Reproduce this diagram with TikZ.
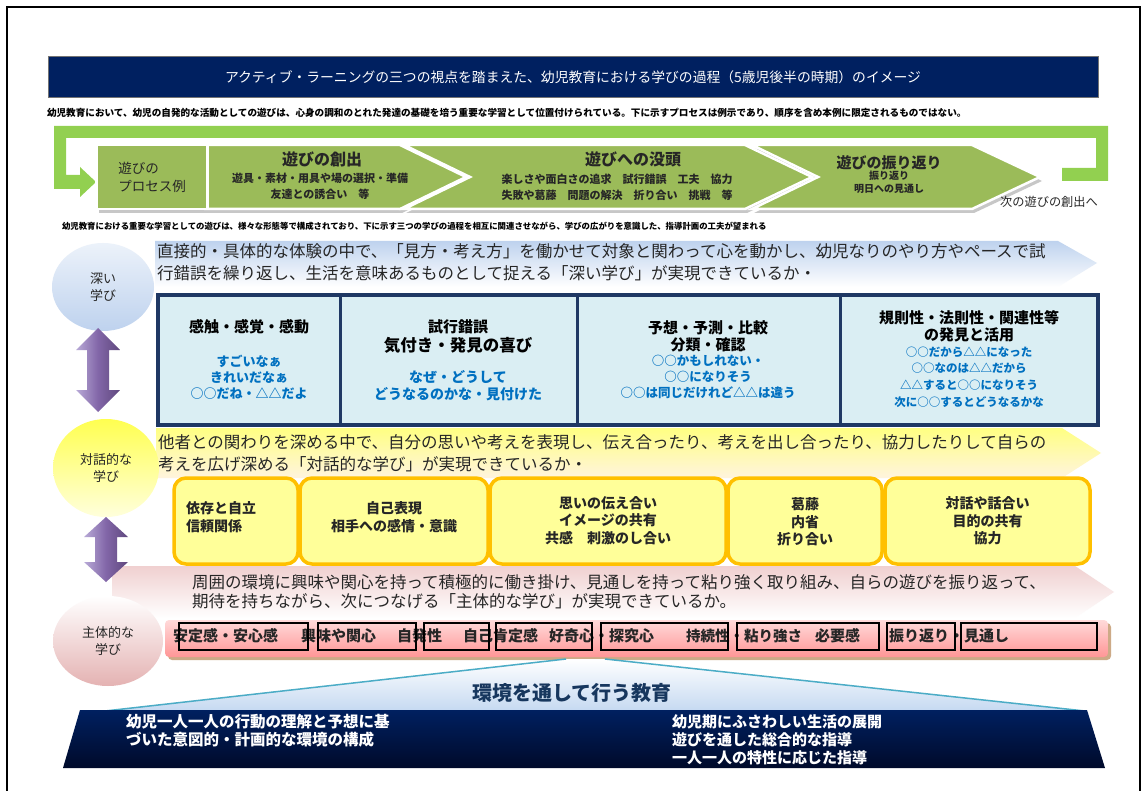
\documentclass[tikz,border=0pt]{standalone}
\usepackage{fontspec}
\setmainfont{Noto Sans CJK JP}
\usetikzlibrary{shapes.geometric}
\newcommand\setfs[2]{\fontsize{#1}{#2}\selectfont}
\definecolor{navy}{RGB}{0,32,96}
\definecolor{navydark}{RGB}{0,10,42}
\definecolor{loopgreen}{RGB}{146,208,80}
\definecolor{olive}{RGB}{155,187,89}
\definecolor{tblborder}{RGB}{31,56,100}
\definecolor{tblfill}{RGB}{218,238,243}
\definecolor{bluetxt}{RGB}{0,112,192}
\definecolor{deepband}{RGB}{190,210,238}
\definecolor{deepellTop}{RGB}{236,242,250}
\definecolor{deepell}{RGB}{190,210,238}
\definecolor{ylTop}{RGB}{255,255,130}
\definecolor{ylMid}{RGB}{255,255,40}
\definecolor{ylBot}{RGB}{255,244,222}
\definecolor{ylEll}{RGB}{255,255,80}
\definecolor{ylEllBot}{RGB}{255,255,220}
\definecolor{yelbox}{RGB}{255,255,153}
\definecolor{orangeb}{RGB}{255,192,0}
\definecolor{pkTop}{RGB}{240,208,208}
\definecolor{pkEll}{RGB}{228,178,178}
\definecolor{pkBarTop}{RGB}{255,218,218}
\definecolor{pkBarBot}{RGB}{255,150,150}
\definecolor{tanedge}{RGB}{205,170,135}
\definecolor{purL}{RGB}{185,170,215}
\definecolor{purM}{RGB}{130,102,168}
\definecolor{purD}{RGB}{95,72,125}
\definecolor{lightblue}{RGB}{197,217,241}
\definecolor{cyanline}{RGB}{75,172,198}
\definecolor{eduTxt}{RGB}{23,55,94}
\definecolor{txt}{RGB}{38,38,38}
\tikzset{
  txtnode/.style={inner sep=0pt, outer sep=0pt},
  bandtext/.style={txtnode, anchor=west, align=left, text=txt, font=\setfs{16.5}{22}},
  chevron/.style={fill=olive, draw=white, line width=2.5pt, line join=miter},
  chevshadow/.style={fill=black!22},
  chevtitle/.style={txtnode, text=txt, font=\setfs{16}{18}\bfseries},
  chevsub/.style={txtnode, text=txt, align=center, font=\setfs{11}{16}\bfseries},
  learnell/.style={ellipse, inner sep=0pt, align=center, text=txt, font=\setfs{13}{17}},
  cell/.style={draw=tblborder, line width=3pt, fill=tblfill, minimum height=130pt, inner sep=0pt},
  cellhead/.style={txtnode, align=center, text=black, font=\setfs{15}{17}\bfseries},
  cellblue/.style={txtnode, align=center, text=bluetxt},
  ybox/.style={draw=orangeb, line width=3.5pt, fill=yelbox, rounded corners=12pt, minimum height=86pt, inner sep=0pt},
  yboxtext/.style={txtnode, align=center, text=txt, font=\setfs{14}{17.5}\bfseries},
  pinkword/.style={txtnode, anchor=west, text=txt, font=\setfs{15}{17}\bfseries},
  wordframe/.style={draw=black, line width=1.2pt},
  navytext/.style={txtnode, anchor=west, align=left, text=white, font=\setfs{15}{18}\bfseries},
  dblarrow/.style={left color=purL, right color=purD, middle color=purM},
}
\begin{document}
\begin{tikzpicture}[x=1pt,y=-1pt]
\useasboundingbox (0,0) rectangle (1145,791);
\fill[white] (0,0) rectangle (1145,791);
\draw[line width=1.6pt] (7,800) -- (7,7) -- (1140,7) -- (1140,800);

% title
\node[fill=navy, draw=black!55, line width=1pt, minimum width=1050pt, minimum height=41pt, inner sep=0pt, text=white, font=\setfs{13.8}{16}] (title) at (573,77.5) {アクティブ・ラーニングの三つの視点を踏まえた、幼児教育における学びの過程（5歳児後半の時期）のイメージ};
\node[txtnode, anchor=west, text=black, font=\setfs{9.6}{11}\bfseries] (note1) at (47,113) {幼児教育において、幼児の自発的な活動としての遊びは、心身の調和のとれた発達の基礎を培う重要な学習として位置付けられている。下に示すプロセスは例示であり、順序を含め本例に限定されるものではない。};

% green loop
\fill[loopgreen] (54,126) -- (1108,126) -- (1108,181) -- (1062,181) -- (1062,168) -- (1096,168) -- (1096,138) -- (66,138) -- (66,175) -- (80,175) -- (80,167) -- (96,182) -- (80,197) -- (80,189) -- (54,189) -- cycle;

% process row
\begin{scope}[shift={(2,4)}]
  \fill[chevshadow] (752,145) -- (972,145) -- (1040,177) -- (972,209) -- (752,209) -- (818,177) -- cycle;
  \fill[chevshadow] (404,145) -- (745,145) -- (812,177) -- (745,209) -- (404,209) -- (470,177) -- cycle;
  \fill[chevshadow] (205,145) -- (400,145) -- (466,177) -- (400,209) -- (205,209) -- cycle;
  \fill[chevshadow] (97,145) rectangle (208,209);
\end{scope}
\filldraw[chevron] (752,145) -- (972,145) -- (1040,177) -- (972,209) -- (752,209) -- (818,177) -- cycle;
\filldraw[chevron] (404,145) -- (745,145) -- (812,177) -- (745,209) -- (404,209) -- (470,177) -- cycle;
\filldraw[chevron] (205,145) -- (400,145) -- (466,177) -- (400,209) -- (205,209) -- cycle;
\node[chevron, minimum width=111pt, minimum height=64pt, inner sep=0pt, align=left, text=txt, font=\setfs{13.5}{18}] (procbox) at (152,177) {遊びの\\プロセス例};

\node[chevtitle] (c1t) at (322,159) {遊びの創出};
\node[chevsub] (c1s) at (320,186) {遊具・素材・用具や場の選択・準備\\友達との誘合い　等};
\node[chevtitle] (c2t) at (633,159) {遊びへの没頭};
\node[chevsub] (c2s) at (617,187) {楽しさや面白さの追求　試行錯誤　工夫　協力\\失敗や葛藤　問題の解決　折り合い　挑戦　等};
\node[chevtitle, font=\setfs{15}{17}\bfseries] (c3t) at (889,163) {遊びの振り返り};
\node[chevsub, font=\setfs{10}{13}\bfseries] (c3s) at (889,182.5) {振り返り\\明日への見通し};
\node[txtnode, text=txt, font=\setfs{12.2}{14}] (next) at (1049,202) {次の遊びの創出へ};

\node[txtnode, anchor=west, text=black, font=\setfs{8.4}{10}\bfseries] (note2) at (62,226) {幼児教育における重要な学習としての遊びは、様々な形態等で構成されており、下に示す三つの学びの過程を相互に関連させながら、学びの広がりを意識した、指導計画の工夫が望まれる};

% deep learning band
\shade[top color=deepband, bottom color=white] (155,241) -- (1058,241) -- (1097,263) -- (1058,287) -- (155,287) -- cycle;
\node[bandtext] (deeptext) at (157,262) {直接的・具体的な体験の中で、「見方・考え方」を働かせて対象と関わって心を動かし、幼児なりのやり方やペースで試\\行錯誤を繰り返し、生活を意味あるものとして捉える「深い学び」が実現できているか・};
\node[learnell, minimum width=102pt, minimum height=88pt, top color=deepellTop, bottom color=deepell] (deep) at (103,287) {深い\\学び};

% table
\node[cell, minimum width=182pt] (cell1) at (249,360) {};
\node[cell, minimum width=237pt] (cell2) at (458.5,360) {};
\node[cell, minimum width=263pt] (cell3) at (708.5,360) {};
\node[cell, minimum width=258pt] (cell4) at (969,360) {};
\node[draw=tblborder, line width=4pt, minimum width=940pt, minimum height=130pt, inner sep=0pt] (tbl) at (628,360) {};

\node[cellhead] (h1) at (249,327) {感触・感覚・感動};
\node[cellblue, font=\setfs{13}{16}\bfseries] (bl1) at (249,377) {すごいなぁ\\きれいだなぁ\\○○だね・△△だよ};
\node[cellhead] (h2a) at (458,327) {試行錯誤};
\node[cellhead, font=\setfs{16.5}{18}\bfseries] (h2b) at (458,345) {気付き・発見の喜び};
\node[cellblue, font=\setfs{14}{17}\bfseries] (bl2) at (458,385.5) {なぜ・どうして\\どうなるのかな・見付けた};
\node[cellhead] (h3) at (708,336.5) {予想・予測・比較\\分類・確認};
\node[cellblue, font=\setfs{12.5}{16}\bfseries] (bl3) at (708,377) {○○かもしれない・\\○○になりそう\\○○は同じだけれど△△は違う};
\node[cellhead] (h4) at (969,326.5) {規則性・法則性・関連性等\\の発見と活用};
\node[cellblue, font=\setfs{11.5}{16.7}\bfseries] (bl4) at (969,377) {○○だから△△になった\\○○なのは△△だから\\△△すると○○になりそう\\次に○○するとどうなるかな};

% arrow 1
\shade[dblarrow] (98,328) -- (120,350) -- (109,350) -- (109,390) -- (120,390) -- (98,412) -- (76,390) -- (87,390) -- (87,350) -- (76,350) -- cycle;

% dialog band
\shade[top color=ylTop, middle color=ylMid, bottom color=ylBot] (156,428) -- (1062,428) -- (1101,453) -- (1062,478) -- (156,478) -- cycle;
\node[bandtext] (dialtext) at (158,453) {他者との関わりを深める中で、自分の思いや考えを表現し、伝え合ったり、考えを出し合ったり、協力したりして自らの\\考えを広げ深める「対話的な学び」が実現できているか・};

% pink band (behind yellow boxes)
\shade[top color=pkTop, bottom color=white] (112,566) -- (1075,566) -- (1114,592) -- (1075,618) -- (112,618) -- cycle;
\node[bandtext, font=\setfs{16.5}{19}] (subjtext) at (192,591.5) {周囲の環境に興味や関心を持って積極的に働き掛け、見通しを持って粘り強く取り組み、自らの遊びを振り返って、\\期待を持ちながら、次につなげる「主体的な学び」が実現できているか。};

\node[learnell, minimum width=106pt, minimum height=98pt, top color=ylEll, bottom color=ylEllBot] (dial) at (106,468) {対話的な\\学び};

\node[ybox, minimum width=124pt] (yb1) at (236,521) {};
\node[ybox, minimum width=188pt] (yb2) at (394,521) {};
\node[ybox, minimum width=236pt] (yb3) at (608,521) {};
\node[ybox, minimum width=154pt] (yb4) at (805,521) {};
\node[ybox, minimum width=205pt] (yb5) at (987.5,521) {};
\node[yboxtext, anchor=west, align=left] (yt1) at (186,517) {依存と自立\\信頼関係};
\node[yboxtext] (yt2) at (394,517) {自己表現\\相手への感情・意識};
\node[yboxtext] (yt3) at (608,520.5) {思いの伝え合い\\イメージの共有\\共感　刺激のし合い};
\node[yboxtext] (yt4) at (805,522) {葛藤\\内省\\折り合い};
\node[yboxtext] (yt5) at (987.5,521) {対話や話合い\\目的の共有\\協力};

% arrow 2
\shade[dblarrow] (106,517) -- (128,537) -- (117,537) -- (117,562) -- (128,562) -- (106,582) -- (84,562) -- (95,562) -- (95,537) -- (84,537) -- cycle;

% pink bar
\fill[tanedge, rounded corners=4pt] (168,623) rectangle (1111,660);
\node[draw=none, rounded corners=4pt, minimum width=943pt, minimum height=37pt, inner sep=0pt, top color=pkBarTop, bottom color=pkBarBot] (pinkbar) at (636.5,638.5) {};
\node[learnell, minimum width=110pt, minimum height=90pt, top color=white, bottom color=pkEll] (subj) at (108,641) {主体的な\\学び};

\node[pinkword] (w1) at (173,636) {安定感・安心感};
\node[pinkword] (w2) at (301,636) {興味や関心};
\node[pinkword] (w3) at (397,636) {自発性};
\node[pinkword] (w4) at (463,636) {自己肯定感};
\node[pinkword] (w5) at (549,636) {好奇心・探究心};
\node[pinkword, font=\setfs{14.5}{17}\bfseries] (w6) at (686,636) {持続性・粘り強さ};
\node[pinkword] (w7) at (815,636) {必要感};
\node[pinkword] (w8) at (889,636) {振り返り・見通し};
\draw[wordframe] (179,623) rectangle (308,650);
\draw[wordframe] (318,623) rectangle (416,650);
\draw[wordframe] (424,623) rectangle (489,650);
\draw[wordframe] (496,623) rectangle (592,650);
\draw[wordframe] (601,623) rectangle (728,650);
\draw[wordframe] (737,623) rectangle (879,650);
\draw[wordframe] (887,623) rectangle (955,650);
\draw[wordframe] (961,623) rectangle (1097,650);

% environment
\shade[top color=white, bottom color=lightblue] (105,711) -- (566,659) -- (605,659) -- (1085,711) -- cycle;
\draw[cyanline, line width=1.5pt] (105,711) -- (566,659);
\draw[cyanline, line width=1.5pt] (605,659) -- (1085,711);
\node[txtnode, text=eduTxt, font=\setfs{20}{22}\bfseries] (edu) at (572,693) {環境を通して行う教育};
\shade[top color=navy, bottom color=navydark] (80,710) -- (1087,710) -- (1105,768) -- (63,768) -- cycle;
\node[navytext, font=\setfs{15.5}{18}\bfseries] (envL) at (126,731) {幼児一人一人の行動の理解と予想に基\\づいた意図的・計画的な環境の構成};
\node[navytext] (envR) at (672,740) {幼児期にふさわしい生活の展開\\遊びを通した総合的な指導\\一人一人の特性に応じた指導};
\end{tikzpicture}
\end{document}
